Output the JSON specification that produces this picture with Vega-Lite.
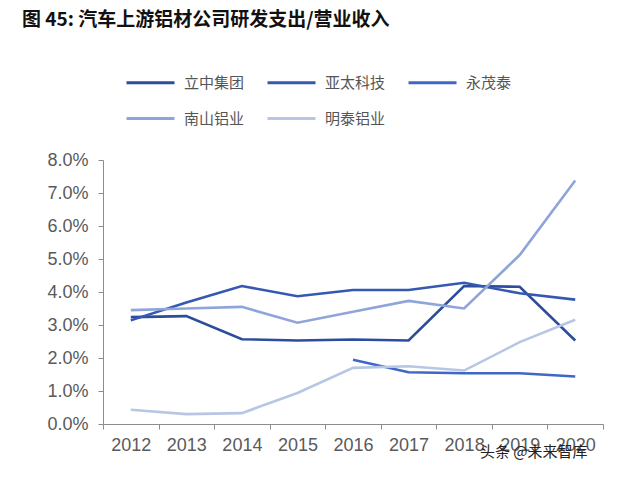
{
  "$schema": "https://vega.github.io/schema/vega-lite/v6.json",
  "width": 500,
  "height": 264,
  "padding": {"left": 22, "top": 11, "right": 5, "bottom": 5},
  "background": "white",
  "title": {
    "text": "图 45: 汽车上游铝材公司研发支出/营业收入",
    "anchor": "start",
    "frame": "group",
    "dx": -81,
    "offset": 27,
    "font": "Noto Sans CJK SC",
    "fontSize": 19,
    "fontWeight": "bold",
    "color": "#111111"
  },
  "datasets": {
    "series": [
      {"year": "2012", "company": "立中集团", "v": 0.0324},
      {"year": "2013", "company": "立中集团", "v": 0.0327},
      {"year": "2014", "company": "立中集团", "v": 0.0257},
      {"year": "2015", "company": "立中集团", "v": 0.0253},
      {"year": "2016", "company": "立中集团", "v": 0.0256},
      {"year": "2017", "company": "立中集团", "v": 0.0253},
      {"year": "2018", "company": "立中集团", "v": 0.0418},
      {"year": "2019", "company": "立中集团", "v": 0.0416},
      {"year": "2020", "company": "立中集团", "v": 0.0253},
      {"year": "2012", "company": "亚太科技", "v": 0.0314},
      {"year": "2013", "company": "亚太科技", "v": 0.0368},
      {"year": "2014", "company": "亚太科技", "v": 0.0418},
      {"year": "2015", "company": "亚太科技", "v": 0.0387},
      {"year": "2016", "company": "亚太科技", "v": 0.0406},
      {"year": "2017", "company": "亚太科技", "v": 0.0406},
      {"year": "2018", "company": "亚太科技", "v": 0.0428},
      {"year": "2019", "company": "亚太科技", "v": 0.0396},
      {"year": "2020", "company": "亚太科技", "v": 0.0377},
      {"year": "2016", "company": "永茂泰", "v": 0.0195},
      {"year": "2017", "company": "永茂泰", "v": 0.0157},
      {"year": "2018", "company": "永茂泰", "v": 0.0154},
      {"year": "2019", "company": "永茂泰", "v": 0.0154},
      {"year": "2020", "company": "永茂泰", "v": 0.0144},
      {"year": "2012", "company": "南山铝业", "v": 0.0345},
      {"year": "2013", "company": "南山铝业", "v": 0.0350},
      {"year": "2014", "company": "南山铝业", "v": 0.0355},
      {"year": "2015", "company": "南山铝业", "v": 0.0307},
      {"year": "2016", "company": "南山铝业", "v": 0.0340},
      {"year": "2017", "company": "南山铝业", "v": 0.0373},
      {"year": "2018", "company": "南山铝业", "v": 0.0350},
      {"year": "2019", "company": "南山铝业", "v": 0.0512},
      {"year": "2020", "company": "南山铝业", "v": 0.0738},
      {"year": "2012", "company": "明泰铝业", "v": 0.0043},
      {"year": "2013", "company": "明泰铝业", "v": 0.0030},
      {"year": "2014", "company": "明泰铝业", "v": 0.0033},
      {"year": "2015", "company": "明泰铝业", "v": 0.0094},
      {"year": "2016", "company": "明泰铝业", "v": 0.0170},
      {"year": "2017", "company": "明泰铝业", "v": 0.0175},
      {"year": "2018", "company": "明泰铝业", "v": 0.0162},
      {"year": "2019", "company": "明泰铝业", "v": 0.0248},
      {"year": "2020", "company": "明泰铝业", "v": 0.0316}
    ],
    "mark": [{"t": "头条 @未来智库"}]
  },
  "layer": [
    {
      "data": {"name": "series"},
      "mark": {"type": "line", "strokeWidth": 2.6},
      "encoding": {
        "x": {
          "field": "year",
          "type": "ordinal",
          "bandPosition": 0.5,
          "scale": {"type": "band", "paddingInner": 0, "paddingOuter": 0},
          "axis": {
            "title": null,
            "labelAngle": 0,
            "labelOverlap": false,
            "tickBand": "extent",
            "labelFont": "Liberation Sans",
            "labelFontSize": 18,
            "labelColor": "#5a5a5a",
            "labelPadding": 7,
            "domainColor": "#8c8c8c",
            "tickColor": "#8c8c8c",
            "tickSize": 5
          }
        },
        "y": {
          "field": "v",
          "type": "quantitative",
          "scale": {"domain": [0, 0.08], "nice": false},
          "axis": {
            "title": null,
            "values": [0, 0.01, 0.02, 0.03, 0.04, 0.05, 0.06, 0.07, 0.08],
            "format": ".1%",
            "grid": false,
            "labelOverlap": false,
            "labelFont": "Liberation Sans",
            "labelFontSize": 18,
            "labelColor": "#5a5a5a",
            "labelPadding": 10,
            "domainColor": "#8c8c8c",
            "tickColor": "#8c8c8c",
            "tickSize": 5
          }
        },
        "color": {
          "field": "company",
          "type": "nominal",
          "sort": ["立中集团", "亚太科技", "永茂泰", "南山铝业", "明泰铝业"],
          "scale": {
            "domain": ["立中集团", "亚太科技", "永茂泰", "南山铝业", "明泰铝业"],
            "range": ["#2c4c9c", "#3558b2", "#3f68c6", "#8fa5da", "#b8c6e6"]
          },
          "legend": {
            "title": null,
            "orient": "none",
            "legendX": 22,
            "legendY": -103,
            "direction": "horizontal",
            "columns": 3,
            "symbolType": "stroke",
            "symbolSize": 2304,
            "symbolStrokeWidth": 3,
            "labelFont": "Noto Sans CJK SC",
            "labelFontSize": 15,
            "labelColor": "#555555",
            "labelOffset": 8,
            "columnPadding": 16,
            "rowPadding": 2
          }
        }
      }
    },
    {
      "data": {"name": "mark"},
      "mark": {"type": "text", "align": "left", "baseline": "middle", "dx": -12, "font": "Noto Sans CJK SC", "fontSize": 15, "color": "#222222"},
      "encoding": {
        "text": {"field": "t"},
        "x": {
          "datum": "2019",
          "type": "ordinal",
          "bandPosition": 0,
          "axis": {
            "title": null,
            "labelAngle": 0,
            "labelOverlap": false,
            "tickBand": "extent",
            "labelFont": "Liberation Sans",
            "labelFontSize": 18,
            "labelColor": "#5a5a5a",
            "labelPadding": 7,
            "domainColor": "#8c8c8c",
            "tickColor": "#8c8c8c",
            "tickSize": 5
          }
        },
        "y": {
          "datum": -0.0085,
          "type": "quantitative",
          "axis": {
            "title": null,
            "values": [0, 0.01, 0.02, 0.03, 0.04, 0.05, 0.06, 0.07, 0.08],
            "format": ".1%",
            "grid": false,
            "labelOverlap": false,
            "labelFont": "Liberation Sans",
            "labelFontSize": 18,
            "labelColor": "#5a5a5a",
            "labelPadding": 10,
            "domainColor": "#8c8c8c",
            "tickColor": "#8c8c8c",
            "tickSize": 5
          }
        }
      }
    }
  ],
  "config": {
    "view": {"stroke": null},
    "axis": {"labelOverlap": false, "labelFlush": false}
  }
}
